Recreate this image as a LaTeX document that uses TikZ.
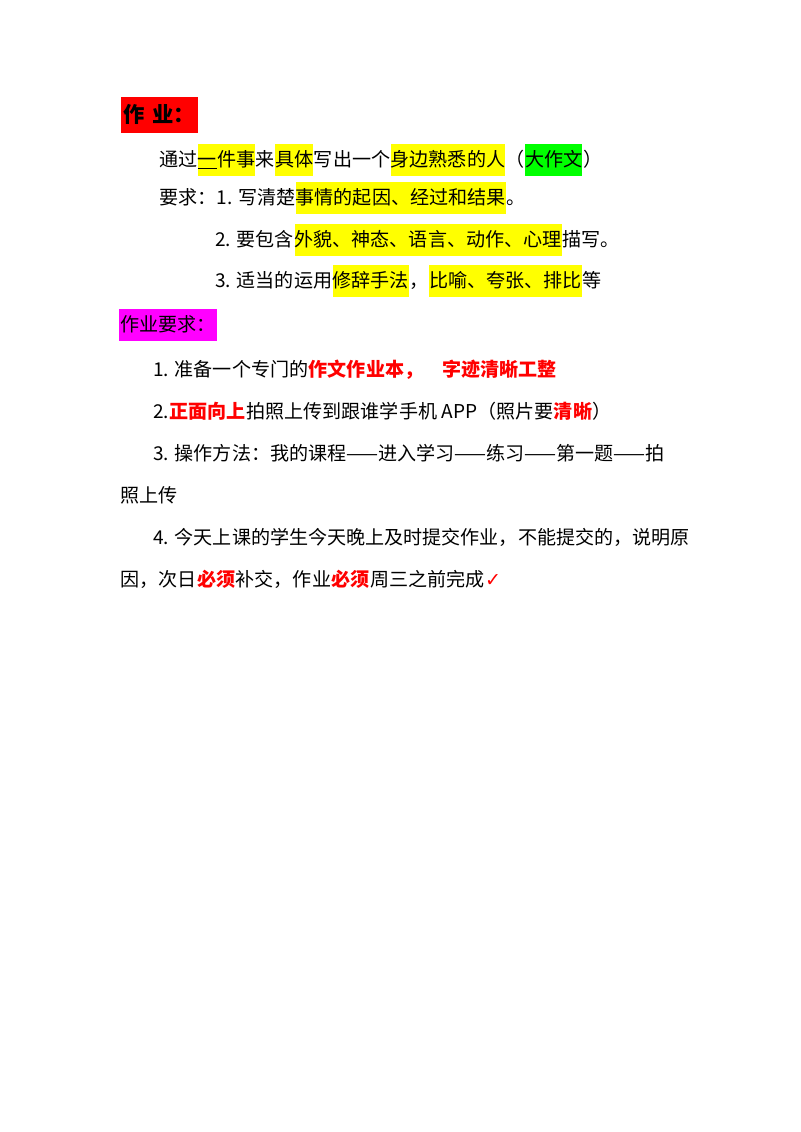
\documentclass[tikz,border=0pt]{standalone}
\usepackage{fontspec}
\setmainfont{Noto Sans CJK SC}
\newfontfamily\symfont{DejaVu Sans}
\definecolor{hlyellow}{RGB}{255,255,0}
\definecolor{hlgreen}{RGB}{0,255,0}
\definecolor{hlred}{RGB}{255,0,0}
\definecolor{hlmag}{RGB}{255,0,255}
\definecolor{txtred}{RGB}{255,0,0}
\tikzset{
  seg/.style={inner sep=0pt, text height=17pt, text depth=7pt, font=\fontsize{14.3pt}{16pt}\selectfont, anchor=west},
  yel/.style={seg, fill=hlyellow},
  grn/.style={seg, fill=hlgreen},
  em/.style={seg, text=txtred, font=\fontsize{14.3pt}{16pt}\selectfont\bfseries},
}
\begin{document}
\begin{tikzpicture}[x=0.75pt,y=-0.75pt]
\fill[white] (0,0) rectangle (800,1132);
\useasboundingbox (0,0) rectangle (800,1132);
% title
\node[seg, fill=hlred, inner xsep=2pt, text height=19pt, text depth=8pt, font=\fontsize{16pt}{18pt}\selectfont\bfseries] (t1) at (121,115) {作\,\,业：};
% line 1
\node[seg] (a1) at (159,160) {通过};
\node[yel] (a2) at (a1.east) {\underline{一}件事};
\node[seg] (a3) at (a2.east) {来};
\node[yel] (a4) at (a3.east) {具体};
\node[seg] (a5) at (a4.east) {写出一个};
\node[yel] (a6) at (a5.east) {身边熟悉的人};
\node[seg] (a7) at (a6.east) {（};
\node[grn] (a8) at (a7.east) {大作文};
\node[seg] (a9) at (a8.east) {）};
% line 2
\node[seg] (b1) at (159,198) {要求：1. 写清楚};
\node[yel] (b2) at (b1.east) {事情的起因、经过和结果};
\node[seg] (b3) at (b2.east) {。};
% line 3
\node[seg] (c1) at (215,240) {2. 要包含};
\node[yel] (c2) at (c1.east) {外貌、神态、语言、动作、心理};
\node[seg] (c3) at (c2.east) {描写。};
% line 4
\node[seg] (d1) at (215,281) {3. 适当的运用};
\node[yel] (d2) at (d1.east) {修辞手法};
\node[seg] (d3) at (d2.east) {，};
\node[yel] (d4) at (d3.east) {比喻、夸张、排比};
\node[seg] (d5) at (d4.east) {等};
% heading 2
\node[seg, fill=hlmag, inner xsep=1pt] (h2) at (119,325) {作业要求：};
% items
\node[seg] (e1) at (153,370) {1. 准备一个专门的};
\node[em] (e2) at (e1.east) {作文作业本，\quad 字迹清晰工整};
\node[seg] (f1) at (153,412) {2. };
\node[em] (f2) at (f1.east) {正面向上};
\node[seg] (f3) at (f2.east) {拍照上传到跟谁学手机 APP（照片要};
\node[em] (f4) at (f3.east) {清晰};
\node[seg] (f5) at (f4.east) {）};
\node[seg] (g1) at (153,454) {3. 操作方法：我的课程——进入学习——练习——第一题——拍};
\node[seg] (g2) at (120,496) {照上传};
\node[seg] (k1) at (153,538) {4. 今天上课的学生今天晚上及时提交作业，不能提交的，说明原};
\node[seg] (m1) at (120,580) {因，次日};
\node[em] (m2) at (m1.east) {必须};
\node[seg] (m3) at (m2.east) {补交，作业};
\node[em] (m4) at (m3.east) {必须};
\node[seg] (m5) at (m4.east) {周三之前完成};
\node[seg, text=txtred] (m6) at (m5.east) {\symfont ✓};
\end{tikzpicture}
\end{document}
